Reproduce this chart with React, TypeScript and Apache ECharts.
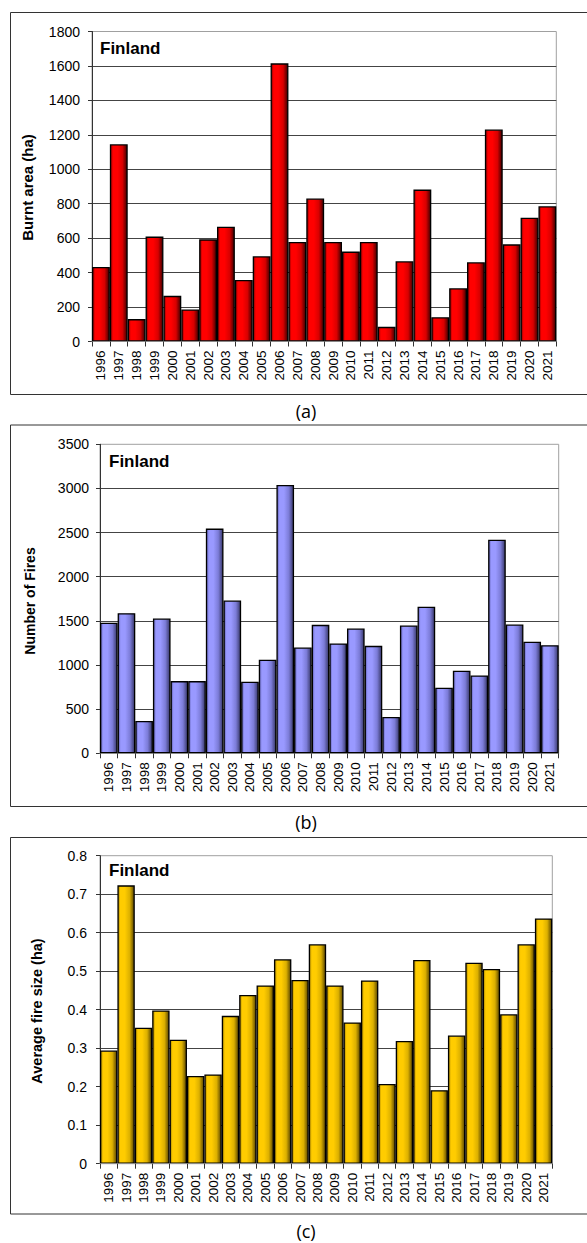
import React, { useEffect, useRef } from "react";
import * as echarts from "echarts";

const years = ["1996","1997","1998","1999","2000","2001","2002","2003","2004","2005","2006","2007","2008","2009","2010","2011","2012","2013","2014","2015","2016","2017","2018","2019","2020","2021"];
const burntArea = [433,1145,130,609,265,186,593,667,357,495,1615,578,830,578,522,578,85,466,882,141,309,460,1231,564,719,785];
const numberOfFires = [1478,1587,367,1527,818,818,2545,1730,810,1059,3040,1198,1455,1244,1413,1217,411,1447,1660,742,935,882,2420,1459,1263,1225];
const avgFireSize = [0.294,0.723,0.353,0.398,0.322,0.228,0.232,0.384,0.438,0.463,0.531,0.477,0.570,0.463,0.367,0.476,0.207,0.319,0.529,0.191,0.333,0.522,0.506,0.388,0.570,0.637];

const panelTitles = ["Finland", "Finland", "Finland"];
const axisTitles = ["Burnt area (ha)", "Number of Fires", "Average fire size (ha)"];
const captions = ["(a)", "(b)", "(c)"];
const yMax = [1800, 3500, 0.8];
const yStep = [200, 500, 0.1];

const FONT = 'Arial, "Liberation Sans", sans-serif';

function grad(dark: string, base: string, mid: string, edge: string) {
  return new echarts.graphic.LinearGradient(0, 0, 1, 0, [
    { offset: 0, color: dark },
    { offset: 0.15, color: base },
    { offset: 0.42, color: base },
    { offset: 0.72, color: mid },
    { offset: 1, color: edge },
  ]);
}

export default function App() {
  const ref = useRef<HTMLDivElement>(null);
  useEffect(() => {
    document.body.style.margin = "0";
    if (!ref.current) return;
    const chart = echarts.init(ref.current, null, { renderer: "svg" });

    const grids = [
      { left: 92, top: 31.5, width: 464.3, height: 310 },
      { left: 100, top: 444.3, width: 458.7, height: 309 },
      { left: 100, top: 855.7, width: 452.3, height: 308 },
    ];
    const boxes = [
      { y: 12.5, h: 382 },
      { y: 425, h: 381.5 },
      { y: 837.5, h: 376.5 },
    ];
    const titlePos = [
      { x: 100, y: 48 },
      { x: 109, y: 461 },
      { x: 109, y: 870 },
    ];
    const axisTitlePos = [
      { x: 27, y: 187.5, size: 15 },
      { x: 29.5, y: 601, size: 14 },
      { x: 37, y: 1011, size: 14.5 },
    ];
    const captionY = [410.5, 821.5, 1230.5];
    const labelMargin = [12, 11, 13];
    const datasets = [burntArea, numberOfFires, avgFireSize];
    const colors = [
      grad("#8a0000", "#ff0000", "#d80000", "#400000"),
      grad("#5e5eb0", "#9999ff", "#7c7cd8", "#38386a"),
      grad("#a88400", "#ffcc00", "#dcb000", "#5a4600"),
    ];

    const graphic: any[] = [];
    for (let i = 0; i < 3; i++) {
      graphic.push({
        type: "rect",
        shape: { x: 10.5, y: boxes[i].y, width: 620, height: boxes[i].h },
        style: { fill: "none", stroke: "#333", lineWidth: 1 },
        silent: true,
      });
      graphic.push({
        type: "text",
        x: titlePos[i].x,
        y: titlePos[i].y,
        style: {
          text: panelTitles[i],
          font: `bold 17px ${FONT}`,
          fill: "#000",
          textAlign: "left",
          textVerticalAlign: "middle",
        },
        z: 10,
      });
      graphic.push({
        type: "text",
        x: axisTitlePos[i].x,
        y: axisTitlePos[i].y,
        rotation: Math.PI / 2,
        style: {
          text: axisTitles[i],
          font: `bold ${axisTitlePos[i].size}px ${FONT}`,
          fill: "#000",
          textAlign: "center",
          textVerticalAlign: "middle",
        },
      });
      graphic.push({
        type: "text",
        x: 306,
        y: captionY[i],
        style: {
          text: captions[i],
          font: `18px "Open Sans", sans-serif`,
          fill: "#000",
          textAlign: "center",
          textVerticalAlign: "middle",
        },
      });
    }

    const option: any = {
      animation: false,
      backgroundColor: "#fff",
      grid: grids.map((g) => ({
        ...g,
        show: true,
        borderColor: "#a0a0a0",
        borderWidth: 1,
        backgroundColor: "transparent",
        containLabel: false,
      })),
      xAxis: [0, 1, 2].map((i) => ({
        type: "category",
        gridIndex: i,
        data: years,
        axisLine: { show: true, lineStyle: { color: "#888", width: 1 } },
        axisTick: { show: true, length: 5, lineStyle: { color: "#333" } },
        axisLabel: {
          rotate: 90,
          interval: 0,
          margin: 9,
          fontSize: 13.5,
          fontFamily: FONT,
          color: "#000",
        },
        splitLine: { show: false },
        z: 5,
      })),
      yAxis: [0, 1, 2].map((i) => ({
        type: "value",
        gridIndex: i,
        min: 0,
        max: yMax[i],
        interval: yStep[i],
        axisLine: { show: true, lineStyle: { color: "#333", width: 1 } },
        axisTick: { show: true, length: 4, lineStyle: { color: "#333" } },
        axisLabel: {
          margin: labelMargin[i],
          fontSize: 14,
          fontFamily: FONT,
          color: "#000",
          formatter: (v: number) => String(Math.round(v * 1000) / 1000),
        },
        splitLine: {
          show: true,
          showMinLine: false,
          showMaxLine: false,
          lineStyle: { color: "#444", width: 1 },
        },
      })),
      series: [0, 1, 2].map((i) => ({
        type: "bar",
        xAxisIndex: i,
        yAxisIndex: i,
        data: datasets[i],
        barCategoryGap: "0%",
        itemStyle: { color: colors[i], borderColor: "#000", borderWidth: 1.3 },
        emphasis: { disabled: true },
        z: 3,
      })),
      graphic,
    };
    chart.setOption(option);
    return () => chart.dispose();
  }, []);
  return <div ref={ref} style={{ width: 587, height: 1243 }} />;
}
